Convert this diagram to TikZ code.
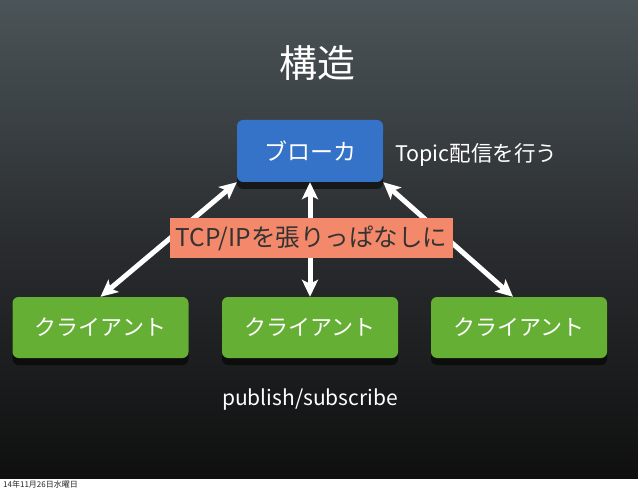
\documentclass[tikz,border=0pt]{standalone}
\usepackage{fontspec}
\setmainfont{Noto Sans CJK JP}
\usetikzlibrary{arrows.meta,shadows}
\definecolor{brokerblue}{HTML}{3573C8}
\definecolor{clientgreen}{HTML}{65AF35}
\definecolor{tcporange}{HTML}{F3886A}
\definecolor{slidetop}{HTML}{4B5458}
\definecolor{slidemid}{HTML}{2A2D30}
\definecolor{slidebot}{HTML}{0F0F0F}

\begin{document}
\begin{tikzpicture}[x=1pt,y=1pt,
    box/.style={rounded corners=6pt,minimum height=61pt,text=white,font=\fontsize{22}{24}\selectfont,
                drop shadow={shadow xshift=0pt,shadow yshift=-7pt,opacity=0.55,fill=black}},
    broker/.style={box,fill=brokerblue,minimum width=146pt,minimum height=62pt,font=\fontsize{23}{25}\selectfont},
    client/.style={box,fill=clientgreen,minimum width=176pt},
    link/.style={white,line width=5pt,{Stealth[length=17pt,width=16pt,inset=4pt]}-{Stealth[length=17pt,width=16pt,inset=4pt]}},
    caption/.style={text=white,inner sep=0pt}]
                \useasboundingbox (0,0) rectangle (638,491);
                % slide
                \fill[white] (0,0) rectangle (638,13);
                \shade[top color=slidetop,bottom color=slidebot,middle color=slidemid] (0,13) rectangle (638,491);
                \node[caption,font=\fontsize{38}{40}\selectfont] (title) at (317,428) {構造};
                % broker and clients
                \node[broker] (broker) at (310,340) {ブローカ};
                \node[caption,anchor=west,font=\fontsize{21.5}{23}\selectfont] (topic) at (395,336) {Topic配信を行う};
                \node[client] (left) at (100.5,163.5) {クライアント};
                \node[client] (middle) at (310,163.5) {クライアント};
                \node[client] (right) at (519,163.5) {クライアント};
                \draw[link] (left.north) -- (broker.south west);
                \draw[link] (middle.north) -- (broker.south);
                \draw[link] ([xshift=-6pt]right.north) -- (broker.south east);
                \node[fill=tcporange,text=black!80,minimum width=283pt,minimum height=40pt,inner sep=0pt,
                      font=\fontsize{24.5}{26}\selectfont] (tcp) at (311.5,253) {TCP/IPを張りっぱなしに};
                \node[caption,font=\fontsize{21}{23}\selectfont] (pubsub) at (310,91) {publish/subscribe};
                \node[anchor=west,inner sep=0pt,text=black!85,font=\fontsize{8}{9}\selectfont] (date) at (3,6.5) {14年11月26日水曜日};

            \end{tikzpicture}
\end{document}
